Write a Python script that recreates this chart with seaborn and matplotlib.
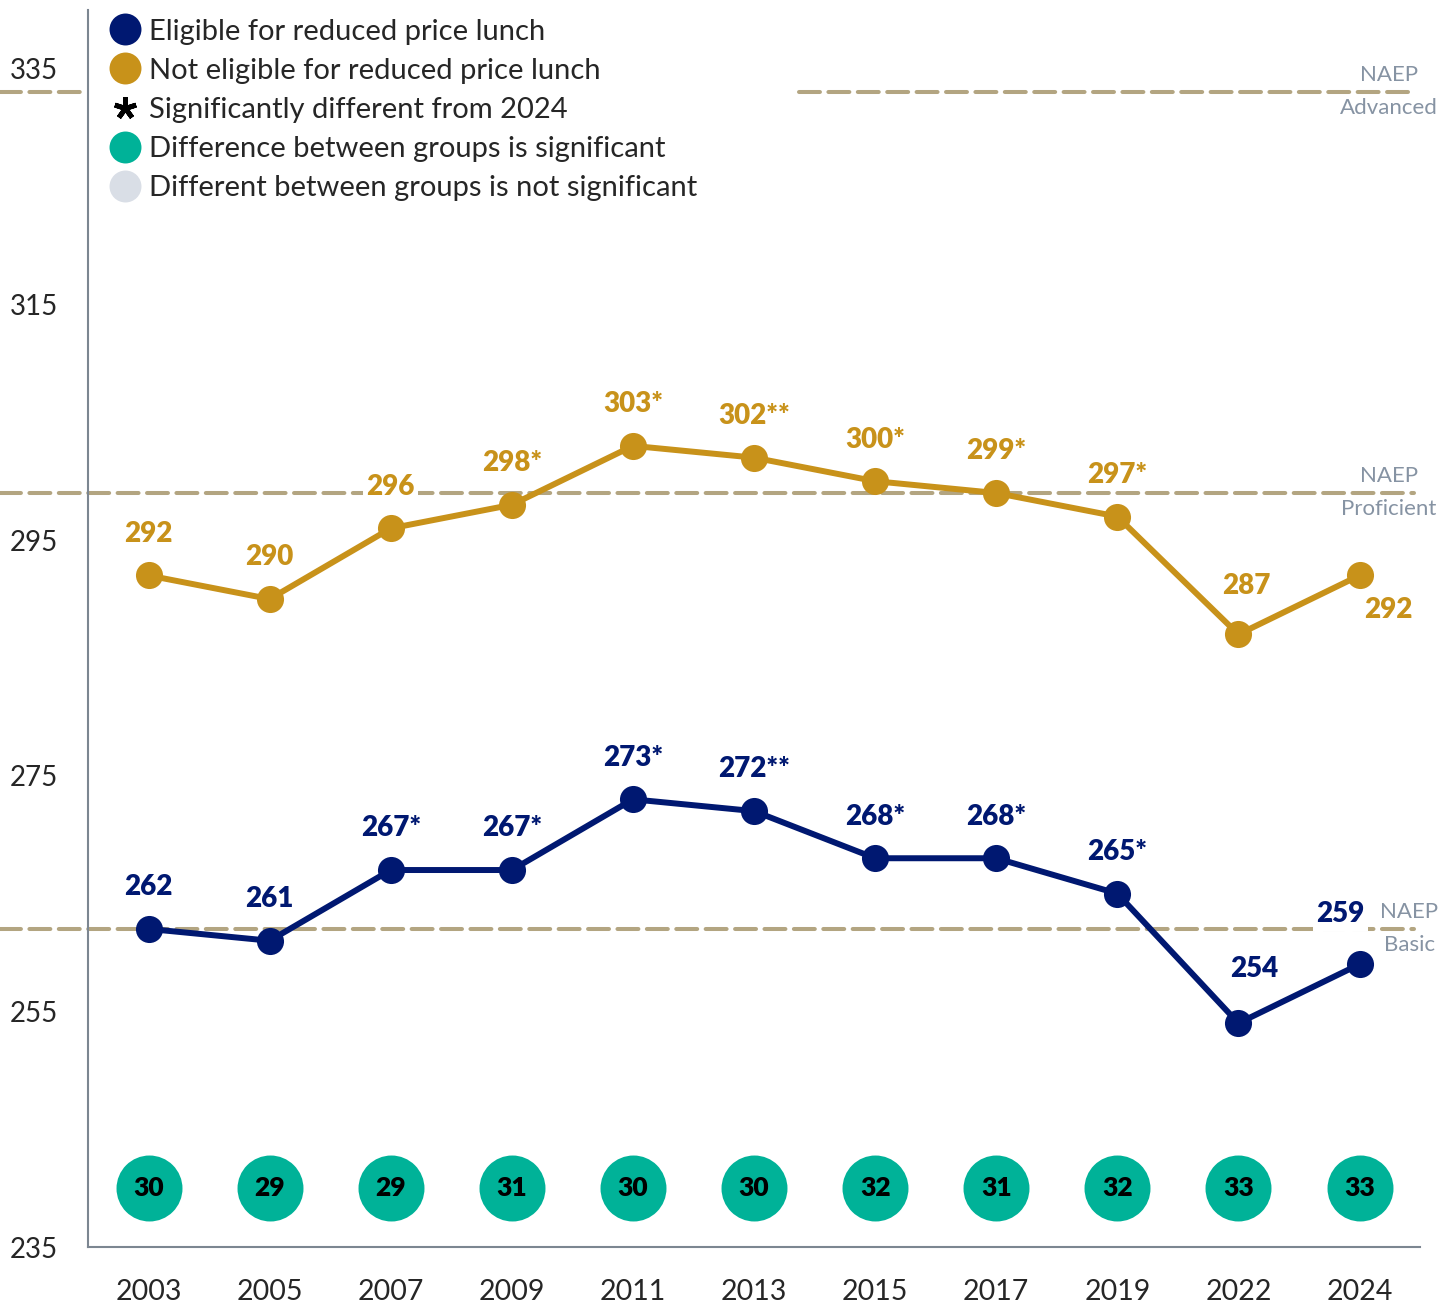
import numpy as np
import pandas as pd
import matplotlib.pyplot as plt
from matplotlib.lines import Line2D
import seaborn as sns

years = ["2003", "2005", "2007", "2009", "2011", "2013", "2015", "2017", "2019", "2022", "2024"]
eligible = [262, 261, 267, 267, 273, 272, 268, 268, 265, 254, 259]
not_eligible = [292, 290, 296, 298, 303, 302, 300, 299, 297, 287, 292]
eligible_labels = ["262", "261", "267*", "267*", "273*", "272**", "268*", "268*", "265*", "254", "259"]
not_eligible_labels = ["292", "290", "296", "298*", "303*", "302**", "300*", "299*", "297*", "287", "292"]
gaps = [30, 29, 29, 31, 30, 30, 32, 31, 32, 33, 33]
naep_levels = {"Advanced": 333, "Proficient": 299, "Basic": 262}
yticks = [235, 255, 275, 295, 315, 335]

BLUE = "#001871"
GOLD = "#C8921A"
TEAL = "#00B298"
LIGHT = "#D9DEE6"
DASH = "#B3A581"
NAEPTXT = "#8693A3"

sns.set_style("white")
plt.rcParams["font.family"] = ["Lato", "DejaVu Sans"]

df = pd.DataFrame({
    "year": years * 2,
    "score": eligible + not_eligible,
    "group": ["Eligible"] * len(years) + ["Not eligible"] * len(years),
})

fig = plt.figure(figsize=(14.55, 13.05), dpi=100)
ax = fig.add_axes([0.0605, 0.0444, 0.9155, 0.9480])

# NAEP reference lines (drawn first, under the data)
dash_kw = dict(color=DASH, lw=2.9, linestyle=(0, (5.2, 2.1)), dash_capstyle="round",
               clip_on=False, zorder=1)
for name, val in naep_levels.items():
    if name == "Advanced":
        ax.plot([-1.23, -0.5], [val, val], **dash_kw)
        ax.plot([5.37, 10.45], [val, val], **dash_kw)
    else:
        ax.plot([-1.23, 10.45], [val, val], **dash_kw)
    tx = 10.41 if name == "Basic" else 10.24
    ax.text(tx, val + 0.6, "NAEP", ha="center", va="bottom", fontsize=16, color=NAEPTXT, zorder=2)
    ax.text(tx, val - 0.5, name, ha="center", va="top", fontsize=16, color=NAEPTXT, zorder=2)

sns.lineplot(data=df, x="year", y="score", hue="group", palette=[BLUE, GOLD],
             marker="o", markersize=19.5, markeredgewidth=0, linewidth=4.3,
             legend=False, ax=ax, zorder=4)

# value labels
def offsets(n, special):
    off = [(0, 30)] * n
    for i, o in special.items():
        off[i] = o
    return off

blue_off = offsets(len(years), {9: (11.5, 39), 10: (-14, 36)})
gold_off = offsets(len(years), {9: (6, 35), 10: (21, -25)})
for labels, vals, offs, col in [(eligible_labels, eligible, blue_off, BLUE),
                                (not_eligible_labels, not_eligible, gold_off, GOLD)]:
    for i, (lab, v) in enumerate(zip(labels, vals)):
        ax.annotate(lab, (i, v), xytext=offs[i], textcoords="offset points",
                    ha="center", va="center", fontsize=20, fontweight="heavy", color=col,
                    bbox=dict(boxstyle="square,pad=0.12", fc="white", ec="none"), zorder=3)

# gap circles
gap_y = 240
ax.scatter(range(len(years)), [gap_y] * len(years), s=47.5 ** 2, color=TEAL, lw=0, zorder=5)
for i, g in enumerate(gaps):
    ax.text(i, gap_y, str(g), ha="center", va="center", fontsize=19, fontweight="heavy",
            color="black", zorder=6)

ax.set_xlim(-0.5, 10.5)
ax.set_ylim(235, 340)
ax.set_yticks(yticks)
ax.set_yticklabels([str(t) for t in yticks])
ax.set_xlabel("")
ax.set_ylabel("")
ax.tick_params(axis="y", length=0, pad=39, labelsize=20)
ax.tick_params(axis="x", length=0, pad=23, labelsize=20.5)
for lab in ax.get_yticklabels():
    lab.set_horizontalalignment("center")
sns.despine(ax=ax)
for s in ["left", "bottom"]:
    ax.spines[s].set_color("#7C8691")
    ax.spines[s].set_linewidth(1.5)

handles = [
    Line2D([], [], marker="o", ls="", color=BLUE, markersize=23, markeredgewidth=0),
    Line2D([], [], marker="o", ls="", color=GOLD, markersize=23, markeredgewidth=0),
    Line2D([], [], marker=(5, 2, 0), ls="", color="black", markersize=16, markeredgewidth=3.5),
    Line2D([], [], marker="o", ls="", color=TEAL, markersize=23, markeredgewidth=0),
    Line2D([], [], marker="o", ls="", color=LIGHT, markersize=23, markeredgewidth=0),
]
labels = ["Eligible for reduced price lunch", "Not eligible for reduced price lunch",
          "Significantly different from 2024", "Difference between groups is significant",
          "Different between groups is not significant"]
ax.legend(handles, labels, loc="upper left", bbox_to_anchor=(0.017, 0.993), frameon=False,
          fontsize=21, handlelength=1.0, handletextpad=0.32, labelspacing=0.45,
          borderpad=0.0, borderaxespad=0.0)

fig.savefig("out.png", dpi=100)
